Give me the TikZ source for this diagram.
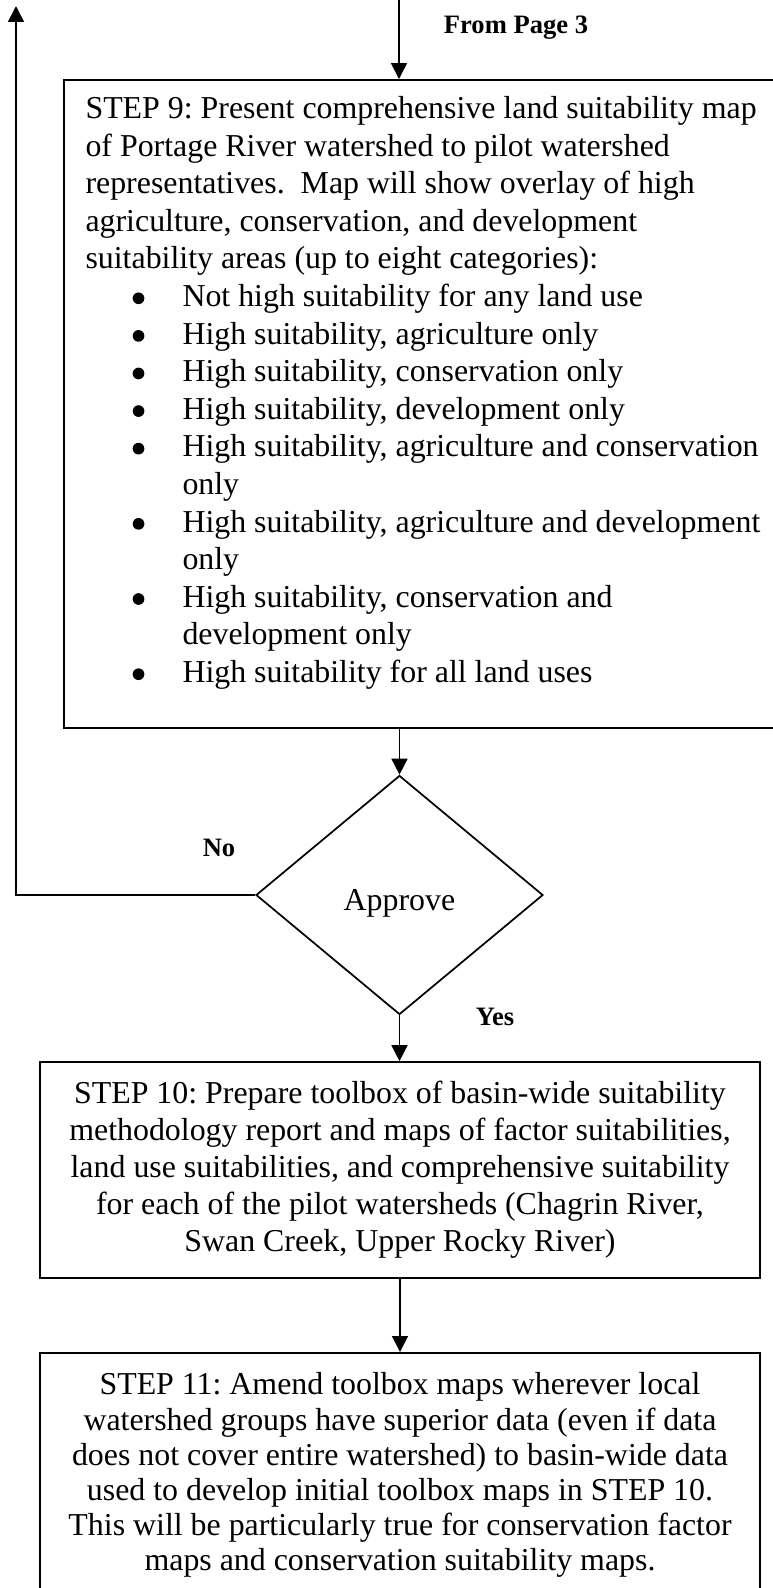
\documentclass[tikz,border=0pt]{standalone}
\usepackage{fontspec}
\setmainfont{Liberation Serif}
\usetikzlibrary{arrows.meta,shapes.geometric}
% one drawing unit
\newdimen\upx \upx=0.3764pt
% bullet list lines inside the STEP 9 box
\newcommand{\bul}{\hspace*{17.75pt}\makebox[18.75pt][l]{\tikz[baseline=0pt,x=1pt,y=1pt]\fill (2.2,3.1) circle[radius=2.2];}}
\newcommand{\bcont}{\hspace*{36.5pt}}

\begin{document}
\frenchspacing
\begin{tikzpicture}[x=0.3764pt, y=-0.3764pt,
  line width=0.65pt,
  box/.style={draw, rectangle, inner sep=0pt},
  body/.style={inner sep=0pt, font=\fontsize{12}{14.15}\selectfont},
  tag/.style={inner sep=0pt, font=\fontsize{10}{12}\selectfont\bfseries},
  flow/.style={-{Triangle[length=6pt,width=6pt]}},
]
\useasboundingbox (0,0) rectangle (773,1588);

% entry point and end of the return line
\coordinate (in3) at (399,0);
\coordinate (back) at (16,6);

% STEP 9
\node[box, anchor=north west, minimum width=730\upx, minimum height=648\upx] (b9) at (63,79) {};
\node[body, anchor=north west, align=left] (t9) at (85,91.7) {\strut STEP 9: Present comprehensive land suitability map\\
of Portage River watershed to pilot watershed\\
representatives.\ \ Map will show overlay of high\\
agriculture, conservation, and development\\
suitability areas (up to eight categories):\\
\bul Not high suitability for any land use\\
\bul High suitability, agriculture only\\
\bul High suitability, conservation only\\
\bul High suitability, development only\\
\bul High suitability, agriculture and conservation\\
\bcont only\\
\bul High suitability, agriculture and development\\
\bcont only\\
\bul High suitability, conservation and\\
\bcont development only\\
\bul High suitability for all land uses};

\node[tag] (from3) at (516,28) {From Page 3};
\draw[flow] (in3) -- (in3 |- b9.north);

% decision
\node[draw, diamond, body, inner sep=0pt, text height=11.8pt, text depth=0pt,
      minimum width=287\upx, minimum height=239\upx] (dia) at (399.5,895) {Approve};
\draw[flow] (dia.north |- b9.south) -- (dia.north);
\draw[flow] (dia.west) -- (dia.west -| back) -- (back);
\node[tag] (no) at (219,848) {No};
\node[tag] (yes) at (495,1017) {Yes};

% STEP 10
\node[box, body, align=center, font=\fontsize{12}{14}\selectfont,
      minimum width=720\upx, minimum height=216\upx] (b10) at (400,1170)
  {\strut STEP 10: Prepare toolbox of basin-wide suitability\\
   methodology report and maps of factor suitabilities,\\
   land use suitabilities, and comprehensive suitability\\
   for each of the pilot watersheds (Chagrin River,\\
   Swan Creek, Upper Rocky River)\strut};
\draw[flow] (dia.south) -- (dia.south |- b10.north);

% STEP 11
\node[box, anchor=north, minimum width=720\upx, minimum height=280\upx] (b11) at (400,1352) {};
\node[body, anchor=north, align=center, font=\fontsize{12}{13.2}\selectfont] (t11) at (400,1369.5)
  {\strut STEP 11: Amend toolbox maps wherever local\\
   watershed groups have superior data (even if data\\
   does not cover entire watershed) to basin-wide data\\
   used to develop initial toolbox maps in STEP 10.\\
   This will be particularly true for conservation factor\\
   maps and conservation suitability maps.};
\draw[flow] (b10.south) -- (b11.north);
\end{tikzpicture}
\end{document}
